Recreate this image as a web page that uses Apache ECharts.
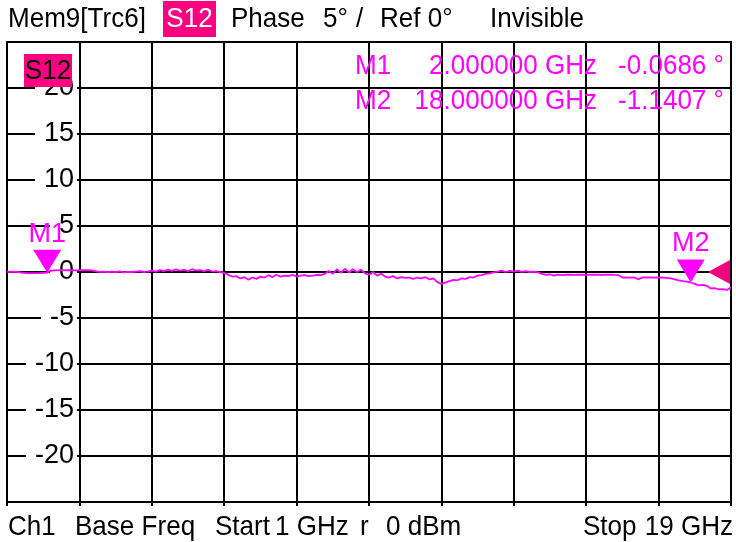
<!DOCTYPE html>
<html><head><meta charset="utf-8">
<script src="https://cdn.jsdelivr.net/npm/echarts@6/dist/echarts.min.js"></script>
<style>html,body{margin:0;padding:0;background:#fff}#c{width:736px;height:542px}</style>
</head><body><div id="c"></div>
<script>
// Sweep definition (GHz)
const startGHz = 1, stopGHz = 19, stepGHz = 0.1;
// S12 phase in degrees, one value per 0.1 GHz
const phaseDeg = [
  0.02, 0.03, 0.02, -0.02, -0.08, -0.12, -0.13, -0.12, -0.13, -0.1,
  -0.07,
  0.15, 0.18, 0.2, 0.2, 0.19, 0.2, 0.18, 0.2, 0.19, 0.2, 0.18, 0.1,
  0.02, 0.05, -0.02, 0.03, 0.0, 0.08, -0.03, 0.02, 0.0, 0.05, 0.1, 0.0, 0.03,
  0.15, 0.05, 0.2, 0.1, 0.25, 0.12, 0.28, 0.15, 0.22, 0.1, 0.3, 0.18, 0.2, 0.08, 0.25, 0.05, 0.1, 0.0, -0.1,
  -0.3, -0.5, -0.45, -0.7, -0.55, -0.85, -0.6, -0.75, -0.5,
  -0.6, -0.35, -0.55, -0.3, -0.5, -0.4, -0.45, -0.3, -0.5, -0.4, -0.35, -0.45, -0.4, -0.3, -0.35, -0.2,
  0.1, -0.2, 0.3, -0.1, 0.35, -0.05, 0.3, 0.0, 0.25, -0.15,
  -0.3, 0.0, -0.4, -0.2,
  -0.5, -0.6, -0.45, -0.7, -0.55, -0.65, -0.6, -0.75, -0.6, -0.7, -0.55, -0.8, -0.7,
  -1.1, -1.3, -1.15,
  -1.0, -0.85, -0.9, -0.7, -0.75, -0.55, -0.6, -0.4, -0.35, -0.2, -0.15, -0.05,
  0.05, 0.15, 0.0, 0.12, 0.05, 0.15, 0.02, 0.1, 0.0, 0.05, -0.05,
  -0.2, -0.3, -0.25, -0.4, -0.28, -0.35, -0.3, -0.3, -0.32,
  -0.3, -0.3, -0.31, -0.3, -0.3, -0.3, -0.31, -0.3, -0.3, -0.32, -0.33,
  -0.6, -0.6, -0.62, -0.6, -0.8, -0.6, -0.58, -0.6, -0.62, -0.6, -0.6, -0.65, -0.7,
  -0.8, -0.9, -1.0, -1.05, -1.14,
  -1.3, -1.45, -1.4, -1.5,
  -1.8, -1.75, -1.9, -1.85, -1.95, -1.65
];
// Y scale (degrees)
const yMin = -25, yMax = 25, yStep = 5;
// Markers
const markerNames = ['M1', 'M2'];
const markerFreqGHz = [2, 18];
const markerPhaseDeg = [-0.0686, -1.1407];
const refLevelDeg = 0;

const FONT = "'Liberation Sans', Arial, Helvetica, sans-serif";
const MAG = '#ff00ff';
const PINK = '#f5007f';

const points = phaseDeg.map((v, i) => [+(startGHz + i * stepGHz).toFixed(3), v]);

const markData = markerNames.map((n, i) => ({
  coord: [markerFreqGHz[i], markerPhaseDeg[i]],
  symbol: 'triangle', symbolSize: [28, 23], symbolRotate: 180, symbolOffset: [0, '-50%'],
  itemStyle: { color: MAG },
  label: { show: true, position: 'top', distance: 2, formatter: n, color: MAG, fontSize: 27, fontFamily: FONT }
}));
markData.push({
  coord: [stopGHz, refLevelDeg],
  symbol: 'triangle', symbolSize: [24, 22], symbolRotate: 90, symbolOffset: ['-50%', 0],
  itemStyle: { color: PINK }, label: { show: false }
});

function txt(x, y, text, opts) {
  return Object.assign({ type: 'text', x: x, y: y, z: 100, scaleX: 0.93,
    style: Object.assign({ text: text, fill: '#000', font: '28px ' + FONT, align: 'left', verticalAlign: 'middle' }, opts || {}) });
}
function fmtFreq(f) { return f.toFixed(6) + ' GHz'; }
function fmtDeg(d) { return d.toFixed(4) + ' \u00b0'; }

const graphics = [
  txt(8, 19, 'Mem9[Trc6]'),
  { type: 'rect', z: 99, shape: { x: 163, y: 1, width: 53, height: 36 }, style: { fill: '#ff0080' } },
  txt(189.5, 19, 'S12', { fill: '#fff', align: 'center' }),
  txt(231, 19, 'Phase'),
  txt(323, 19, '5\u00b0'),
  txt(356, 19, '/'),
  txt(380, 19, 'Ref 0\u00b0'),
  txt(490, 19, 'Invisible'),
  { type: 'rect', z: 99, shape: { x: 24, y: 54, width: 48, height: 33 }, style: { fill: '#ff0080' } },
  txt(48, 71, 'S12', { align: 'center' }),
  txt(8, 527, 'Ch1'),
  txt(75, 527, 'Base Freq'),
  txt(215, 527, 'Start'),
  txt(275, 527, '1 GHz'),
  txt(360, 527, 'r'),
  txt(386, 527, '0 dBm'),
  txt(583, 527, 'Stop'),
  txt(733, 527, stopGHz + ' GHz', { align: 'right' })
];
const rowY = [66, 101];
markerNames.forEach((n, i) => {
  graphics.push(txt(355, rowY[i], n, { fill: MAG }));
  graphics.push(txt(597, rowY[i], fmtFreq(markerFreqGHz[i]), { fill: MAG, align: 'right' }));
  graphics.push(txt(724, rowY[i], fmtDeg(markerPhaseDeg[i]), { fill: MAG, align: 'right' }));
});

const chart = echarts.init(document.getElementById('c'), null, { renderer: 'canvas' });
chart.setOption({
  animation: false,
  backgroundColor: '#fff',
  grid: { left: 7, top: 42, width: 724, height: 460, show: true, borderColor: '#000', borderWidth: 2, backgroundColor: '#fff', containLabel: false },
  xAxis: [
    { type: 'value', min: startGHz, max: stopGHz, show: false },
    { type: 'value', min: 0, max: 10, interval: 1, position: 'bottom',
      axisLine: { show: false },
      axisTick: { show: true, length: 4, lineStyle: { color: '#000', width: 2 } },
      axisLabel: { show: false },
      splitLine: { show: true, lineStyle: { color: '#000', width: 2 } } }
  ],
  yAxis: {
    type: 'value', min: yMin, max: yMax, interval: yStep,
    axisLine: { show: false }, axisTick: { show: false },
    splitLine: { show: true, lineStyle: { color: '#000', width: 2 } },
    axisLabel: { margin: -70, fontSize: 27, color: '#000', fontFamily: FONT, backgroundColor: '#fff',
      padding: [3, 3, 0, 9], showMinLabel: false, showMaxLabel: false }
  },
  series: [{
    type: 'line', xAxisIndex: 0, yAxisIndex: 0, data: points, showSymbol: false, clip: false,
    lineStyle: { color: MAG, width: 1.8 }, z: 5,
    markPoint: { silent: true, data: markData }
  }],
  graphic: graphics
});
</script></body></html>
